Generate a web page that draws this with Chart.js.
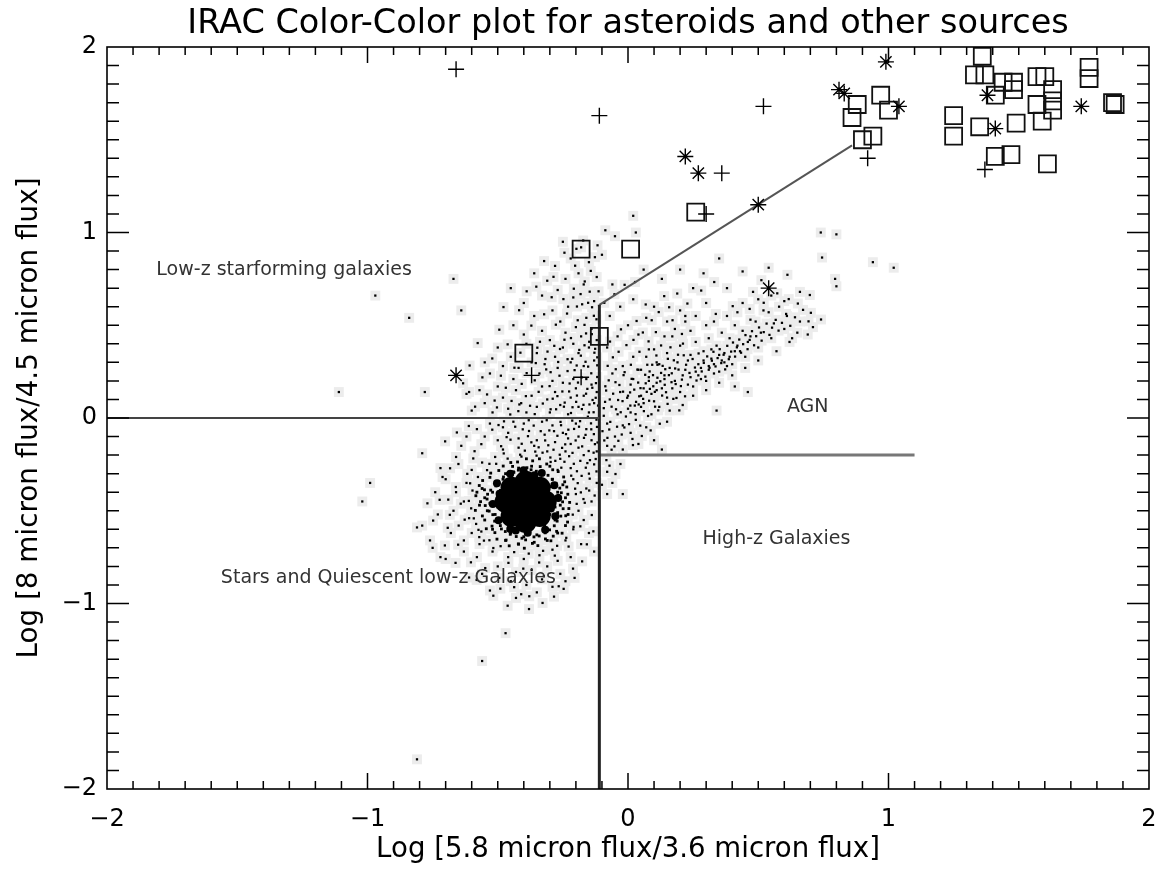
<!DOCTYPE html>
<html lang="en">
<head>
<meta charset="utf-8">
<title>IRAC Color-Color plot</title>
<script src="https://cdn.jsdelivr.net/npm/chart.js"></script>
<style>
  body { margin: 0; background: #fff; }
  #plot { display: block; }
</style>
</head>
<body>
<canvas id="plot" width="1162" height="871"></canvas>
<script>
// tick values on both axes
const tickValues = [-2, -1, 0, 1, 2];
const tickLabels = ['\u22122', '\u22121', '0', '1', '2'];

// asteroid-type sources
const plusSources = [
  [-0.66, 1.88], [-0.11, 1.63], [0.52, 1.68], [0.92, 1.40], [0.36, 1.32],
  [0.30, 1.10], [-0.37, 0.23], [-0.18, 0.22], [1.37, 1.34]
];
const starSources = [
  [0.81, 1.77], [0.83, 1.75], [0.99, 1.92], [1.04, 1.68], [1.38, 1.74], [1.41, 1.56],
  [1.74, 1.68], [0.22, 1.41], [0.27, 1.32], [0.50, 1.15], [0.54, 0.70], [-0.66, 0.23]
];
const squareSources = [
  [0.88, 1.69], [0.97, 1.74], [1.00, 1.66], [0.86, 1.62], [0.94, 1.52], [0.90, 1.50],
  [1.36, 1.95], [1.33, 1.85], [1.37, 1.85], [1.44, 1.81], [1.48, 1.81], [1.48, 1.77],
  [1.41, 1.74], [1.57, 1.84], [1.60, 1.84], [1.63, 1.77], [1.63, 1.71], [1.57, 1.69],
  [1.63, 1.66], [1.59, 1.60], [1.49, 1.59], [1.35, 1.57], [1.25, 1.63], [1.25, 1.52],
  [1.41, 1.41], [1.47, 1.42], [1.61, 1.37], [1.77, 1.89], [1.77, 1.83], [1.86, 1.70],
  [1.87, 1.69], [0.26, 1.11], [-0.18, 0.91], [0.01, 0.91], [-0.11, 0.44], [-0.40, 0.35]
];

// field sources: dense stellar core (blob)
const fieldCore = [
  [-0.393, -0.452], [-0.316, -0.452], [-0.339, -0.376], [-0.393, -0.344], [-0.447, -0.376],
  [-0.470, -0.452], [-0.447, -0.528], [-0.393, -0.560], [-0.339, -0.528]
];
// field sources: ragged edge of the core
const fieldCoreEdge = [
  [-0.268,-0.431],[-0.283,-0.362],[-0.331,-0.297],[-0.401,-0.281],[-0.452,-0.301],[-0.503,-0.352],
  [-0.519,-0.463],[-0.497,-0.551],[-0.452,-0.598],[-0.385,-0.618],[-0.318,-0.603],[-0.279,-0.529],
  [-0.493,-0.409],[-0.296,-0.488],[-0.359,-0.309],[-0.431,-0.606]
];
// field sources: ring right round the core
const fieldRing = [
  [-0.541,-0.437],[-0.527,-0.389],[-0.533,-0.502],[-0.512,-0.556],[-0.498,-0.341],[-0.486,-0.598],
  [-0.463,-0.302],[-0.452,-0.627],[-0.421,-0.281],[-0.407,-0.648],[-0.372,-0.279],[-0.361,-0.641],
  [-0.329,-0.297],[-0.318,-0.619],[-0.291,-0.331],[-0.283,-0.581],[-0.262,-0.378],[-0.258,-0.529],
  [-0.251,-0.452],[-0.267,-0.418],[-0.548,-0.472],[-0.519,-0.521],[-0.507,-0.366],[-0.478,-0.318],
  [-0.471,-0.612],[-0.438,-0.293],[-0.429,-0.639],[-0.388,-0.268],[-0.393,-0.657],[-0.352,-0.287],
  [-0.341,-0.636],[-0.307,-0.309],[-0.301,-0.603],[-0.276,-0.352],[-0.272,-0.556],[-0.256,-0.403],
  [-0.249,-0.489],[-0.539,-0.411],[-0.522,-0.583],[-0.274,-0.611],[-0.566,-0.451],[-0.571,-0.364],
  [-0.559,-0.528],[-0.544,-0.597],[-0.503,-0.653],[-0.456,-0.689],[-0.398,-0.702],[-0.346,-0.688],
  [-0.296,-0.662],[-0.253,-0.621],[-0.232,-0.561],[-0.227,-0.488],[-0.231,-0.411],[-0.243,-0.344],
  [-0.268,-0.289],[-0.312,-0.248],[-0.366,-0.231],[-0.424,-0.237],[-0.479,-0.259],[-0.527,-0.297],
  [-0.558,-0.337],[-0.584,-0.419],[-0.586,-0.498],[-0.235,-0.372],[-0.224,-0.455],[-0.239,-0.527],
  [-0.511,-0.618],[-0.468,-0.658],[-0.421,-0.679],[-0.367,-0.676],[-0.317,-0.652],[-0.287,-0.637],
  [-0.551,-0.387],[-0.496,-0.283],[-0.443,-0.261],[-0.337,-0.262],[-0.289,-0.279],[-0.247,-0.318],
  [-0.52,-0.40],[-0.53,-0.46],[-0.51,-0.52],[-0.50,-0.35],[-0.49,-0.58],[-0.47,-0.30],[-0.45,-0.62],
  [-0.42,-0.27],[-0.40,-0.64],[-0.37,-0.26],[-0.35,-0.63],[-0.33,-0.29],[-0.31,-0.60],[-0.29,-0.33],
  [-0.28,-0.55],[-0.27,-0.40],[-0.26,-0.47],[-0.27,-0.51],[-0.30,-0.37],[-0.48,-0.33],[-0.55,-0.43],
  [-0.54,-0.50],[-0.46,-0.57],[-0.38,-0.60],[-0.32,-0.58],[-0.44,-0.29],[-0.50,-0.44],[-0.29,-0.44],
  [-0.24,-0.43],[-0.25,-0.36],[-0.23,-0.52],[-0.56,-0.38],[-0.57,-0.47],[-0.55,-0.55],[-0.52,-0.60],
  [-0.47,-0.66],[-0.42,-0.68],[-0.36,-0.67],[-0.31,-0.66],[-0.27,-0.62],[-0.24,-0.58],[-0.45,-0.24],
  [-0.39,-0.22],[-0.34,-0.22],[-0.30,-0.26],[-0.53,-0.32],[-0.58,-0.40],[-0.50,-0.48],[-0.49,-0.39],
  [-0.28,-0.48],[-0.30,-0.52],[-0.41,-0.59],[-0.36,-0.31],[-0.47,-0.53],[-0.33,-0.34]
];
// field sources: wider halo of stars and quiescent galaxies
const fieldBroad = [
  [-0.62,-0.35],[-0.63,-0.45],[-0.61,-0.54],[-0.60,-0.62],[-0.57,-0.68],[-0.52,-0.72],[-0.46,-0.75],
  [-0.40,-0.76],[-0.34,-0.74],[-0.29,-0.71],[-0.24,-0.66],[-0.21,-0.60],[-0.19,-0.50],[-0.20,-0.41],
  [-0.21,-0.33],[-0.60,-0.28],[-0.56,-0.24],[-0.51,-0.21],[-0.48,-0.17],[-0.42,-0.16],[-0.36,-0.15],
  [-0.31,-0.18],[-0.26,-0.22],[-0.22,-0.27],[-0.66,-0.40],[-0.67,-0.50],[-0.65,-0.58],[-0.63,-0.66],
  [-0.58,-0.75],[-0.50,-0.80],[-0.43,-0.83],[-0.37,-0.82],[-0.31,-0.80],[-0.27,-0.77],[-0.18,-0.68],
  [-0.17,-0.55],[-0.16,-0.38],[-0.70,-0.33],[-0.69,-0.44],[-0.68,-0.62],[-0.45,-0.88],[-0.39,-0.90],
  [-0.33,-0.87],[-0.26,-0.84],[-0.22,-0.75],[-0.15,-0.62],[-0.73,-0.52],[-0.74,-0.40],[-0.72,-0.27],
  [-0.66,-0.21],[-0.63,-0.72],[-0.56,-0.84],[-0.49,-0.92],[-0.41,-0.95],[-0.35,-0.94],[-0.29,-0.91],
  [-0.24,-0.88],[-0.13,-0.72],[-0.77,-0.46],[-0.79,-0.58],[-0.76,-0.66],[-0.70,-0.76],[-0.61,-0.86],
  [-0.53,-0.93],
  [-0.712,-0.318],[-0.684,-0.522],[-0.652,-0.683],[-0.617,-0.301],[-0.603,-0.778],[-0.594,-0.218],
  [-0.571,-0.642],[-0.548,-0.809],[-0.532,-0.247],[-0.517,-0.701],[-0.494,-0.862],[-0.477,-0.191],
  [-0.459,-0.781],[-0.437,-0.912],[-0.414,-0.198],[-0.402,-0.812],[-0.379,-0.961],[-0.356,-0.181],
  [-0.341,-0.779],[-0.323,-0.853],[-0.298,-0.213],[-0.281,-0.742],[-0.266,-0.907],[-0.244,-0.236],
  [-0.228,-0.693],[-0.211,-0.812],[-0.196,-0.287],[-0.183,-0.584],[-0.171,-0.437],[-0.158,-0.681],
  [-0.147,-0.327],[-0.139,-0.523],[-0.128,-0.418],[-0.121,-0.288],[-0.133,-0.611],[-0.642,-0.462],
  [-0.627,-0.548],[-0.661,-0.372],[-0.692,-0.592],[-0.723,-0.441],[-0.748,-0.553],[-0.703,-0.687],
  [-0.662,-0.781],[-0.581,-0.873],[-0.517,-0.958],[-0.462,-1.012],[-0.328,-0.997],[-0.284,-0.963],
  [-0.247,-0.921],[-0.205,-0.862],[-0.176,-0.773],[-0.589,-0.179],[-0.651,-0.248],[-0.683,-0.271]
];
// field sources: between the core and the y = 0 cut
const fieldBridge = [
  [-0.55,-0.10],[-0.50,-0.12],[-0.46,-0.08],[-0.42,-0.11],[-0.38,-0.07],[-0.35,-0.12],[-0.32,-0.09],
  [-0.28,-0.13],[-0.25,-0.08],[-0.22,-0.14],[-0.19,-0.10],[-0.16,-0.06],[-0.14,-0.12],[-0.12,-0.18],
  [-0.13,-0.25],[-0.17,-0.20],[-0.20,-0.03],[-0.24,-0.18],[-0.29,-0.04],[-0.33,-0.02],[-0.40,-0.03],
  [-0.44,-0.02],[-0.48,-0.05],[-0.53,-0.03],[-0.58,-0.06],[-0.62,-0.10],[-0.64,-0.15],[-0.27,-0.28],
  [-0.15,-0.30],[-0.12,-0.35],[-0.14,-0.45],[-0.19,-0.16],[-0.23,-0.11],
  [-0.563,-0.141],[-0.521,-0.063],[-0.487,-0.152],[-0.451,-0.117],[-0.433,-0.047],[-0.408,-0.139],
  [-0.384,-0.098],[-0.362,-0.041],[-0.343,-0.158],[-0.318,-0.121],[-0.302,-0.067],[-0.286,-0.171],
  [-0.271,-0.096],[-0.257,-0.039],[-0.241,-0.142],[-0.229,-0.063],[-0.213,-0.188],[-0.201,-0.121],
  [-0.188,-0.047],[-0.176,-0.153],[-0.163,-0.091],[-0.151,-0.178],[-0.142,-0.029],[-0.131,-0.087],
  [-0.124,-0.221],[-0.119,-0.048],[-0.117,-0.132],[-0.156,-0.243],[-0.183,-0.231],[-0.262,-0.198],
  [-0.328,-0.187],[-0.396,-0.176],[-0.611,-0.043],[-0.657,-0.078],[-0.702,-0.126],[-0.476,-0.018],
  [-0.381,-0.012],[-0.214,-0.014]
];
// field sources: plume of low-z star-forming galaxies
const fieldPlume = [
  [-0.60,0.04],[-0.55,0.08],[-0.52,0.03],[-0.48,0.11],[-0.46,0.05],[-0.43,0.15],[-0.41,0.08],
  [-0.39,0.03],[-0.37,0.12],[-0.35,0.06],[-0.33,0.17],[-0.31,0.10],[-0.30,0.03],[-0.28,0.14],
  [-0.26,0.07],[-0.25,0.19],[-0.23,0.02],[-0.22,0.11],[-0.20,0.16],[-0.19,0.06],[-0.17,0.12],
  [-0.15,0.03],[-0.14,0.18],[-0.13,0.08],[-0.12,0.14],[-0.16,0.21],[-0.21,0.21],[-0.29,0.20],
  [-0.34,0.24],[-0.44,0.21],[-0.50,0.17],[-0.57,0.15],[-0.62,0.13],[-0.53,0.24],
  [-0.48,0.28],[-0.45,0.33],[-0.42,0.27],[-0.39,0.40],[-0.37,0.30],[-0.35,0.35],[-0.32,0.29],
  [-0.30,0.42],[-0.28,0.33],[-0.27,0.27],[-0.25,0.38],[-0.24,0.46],[-0.22,0.30],[-0.21,0.40],
  [-0.19,0.35],[-0.18,0.44],[-0.17,0.28],[-0.15,0.38],[-0.14,0.48],[-0.13,0.31],[-0.12,0.42],
  [-0.20,0.49],[-0.26,0.52],[-0.33,0.47],[-0.40,0.45],[-0.50,0.38],[-0.55,0.30],[-0.44,0.50],
  [-0.36,0.55],[-0.29,0.58],[-0.16,0.54],[-0.23,0.60],
  [-0.40,0.62],[-0.33,0.66],[-0.27,0.69],[-0.21,0.65],[-0.17,0.72],[-0.13,0.63],[-0.19,0.78],
  [-0.24,0.75],[-0.31,0.74],[-0.15,0.84],[-0.22,0.86],[-0.12,0.76],[-0.28,0.82],[-0.36,0.78],
  [-0.45,0.70],[-0.18,0.92],[-0.10,0.88],[-0.25,0.95],[-0.05,0.98],[0.02,1.09],[0.03,1.00],
  [-0.587,0.061],[-0.541,0.127],[-0.503,0.057],[-0.469,0.163],[-0.447,0.092],[-0.421,0.037],
  [-0.408,0.184],[-0.392,0.118],[-0.376,0.066],[-0.358,0.203],[-0.343,0.141],[-0.327,0.078],
  [-0.314,0.262],[-0.301,0.172],[-0.289,0.104],[-0.276,0.047],[-0.263,0.228],[-0.252,0.143],
  [-0.243,0.083],[-0.232,0.317],[-0.224,0.186],[-0.213,0.058],[-0.205,0.258],[-0.196,0.121],
  [-0.187,0.367],[-0.178,0.219],[-0.171,0.071],[-0.163,0.303],[-0.156,0.157],[-0.149,0.411],
  [-0.141,0.241],[-0.136,0.097],[-0.129,0.352],[-0.123,0.188],[-0.118,0.284],[-0.121,0.532],
  [-0.138,0.597],[-0.147,0.681],[-0.161,0.456],[-0.176,0.613],[-0.193,0.527],[-0.208,0.697],
  [-0.219,0.431],[-0.234,0.563],[-0.248,0.641],[-0.261,0.372],[-0.277,0.503],[-0.293,0.651],
  [-0.309,0.358],[-0.322,0.559],[-0.338,0.411],[-0.354,0.296],[-0.371,0.498],[-0.389,0.242],
  [-0.413,0.352],[-0.436,0.271],[-0.462,0.397],[-0.488,0.228],[-0.521,0.321],[-0.559,0.219],
  [-0.608,0.283],[-0.633,0.187],[-0.577,0.404],[-0.494,0.476],[-0.418,0.581],[-0.352,0.708],
  [-0.286,0.761],[-0.203,0.821],[-0.127,0.867],[-0.172,0.957],[-0.087,1.012],[-0.117,0.931],
  [-0.244,0.891],[-0.322,0.846],[-0.389,0.683],[-0.478,0.598],[-0.143,0.793],[-0.166,0.736],
  [-0.198,0.912],[-0.113,0.683]
];
// field sources: right of the vertical cut
const fieldRight = [
  [-0.08,-0.15],[-0.05,-0.10],[-0.02,-0.17],[0.01,-0.08],[0.04,-0.14],[0.07,-0.05],[0.10,-0.12],
  [0.13,-0.17],[-0.08,-0.03],[-0.04,0.02],[0.00,0.05],[0.03,-0.01],[0.06,0.08],[0.09,0.02],
  [0.12,0.06],[0.15,-0.02],[-0.07,0.10],[-0.03,0.14],[0.01,0.18],[0.05,0.12],[0.08,0.20],
  [0.11,0.15],[0.14,0.23],[-0.06,0.24],[-0.02,0.28],[0.02,0.33],[0.05,0.26],[0.08,0.37],
  [0.11,0.30],[-0.08,0.38],[-0.04,0.44],[0.00,0.50],[0.04,0.45],[0.07,0.54],[-0.07,0.55],
  [-0.03,0.60],[0.02,0.64],[0.10,0.60],[0.15,0.52],[0.17,0.44],[0.13,0.75],[0.06,0.80],
  [-0.06,0.72],[0.20,0.80],[0.25,0.70],[0.22,0.55],
  [-0.08,-0.29],[-0.06,-0.35],[-0.08,-0.41],[-0.02,-0.41],[-0.10,-0.36],
  [-0.091,-0.121],[-0.072,-0.062],[-0.063,-0.171],[-0.046,0.047],[-0.037,-0.123],[-0.021,0.091],
  [-0.014,-0.051],[0.008,0.138],[0.017,-0.113],[0.026,0.067],[0.039,0.191],[0.047,-0.041],
  [0.058,0.103],[0.066,0.233],[0.077,0.011],[0.084,0.157],[0.093,0.287],[0.104,0.061],
  [0.113,0.217],[0.122,-0.031],[0.131,0.121],[0.143,0.263],[0.152,0.076],[0.167,0.193],
  [0.176,0.311],[0.186,0.108],[0.197,0.041],[-0.093,0.053],[-0.087,0.171],[-0.078,0.281],
  [-0.069,0.412],[-0.058,0.327],[-0.048,0.193],[-0.036,0.357],[-0.027,0.478],[-0.017,0.231],
  [-0.006,0.393],[0.011,0.287],[0.021,0.421],[0.033,0.523],[0.044,0.357],[0.057,0.461],
  [0.068,0.612],[0.079,0.413],[0.091,0.527],[0.107,0.463],[0.118,0.571],[0.127,0.391],
  [0.139,0.657],[0.158,0.597],[0.171,0.527],[0.189,0.671],[0.207,0.453],[0.228,0.617],
  [-0.091,0.621],[-0.052,0.667],[-0.013,0.718],[0.027,0.733],[-0.083,-0.227],[-0.071,-0.257],
  [-0.048,-0.302],[-0.029,-0.248]
];
// field sources: the AGN branch
const fieldAgn = [
  [0.01,0.03],[0.00,0.12],[0.02,0.21],[-0.02,-0.04],[0.05,0.06],[0.06,0.16],[0.04,0.26],[0.07,0.33],
  [0.10,0.09],[0.11,0.19],[0.09,0.13],[0.12,0.29],[0.10,0.37],[0.15,0.11],[0.14,0.21],[0.16,0.27],
  [0.17,0.16],[0.15,0.35],[0.16,0.04],[0.20,0.14],[0.21,0.23],[0.19,0.30],[0.22,0.26],[0.20,0.39],
  [0.21,0.07],[0.23,0.18],[0.25,0.17],[0.26,0.25],[0.24,0.34],[0.27,0.29],[0.26,0.41],[0.25,0.12],
  [0.28,0.21],[0.30,0.20],[0.31,0.28],[0.29,0.36],[0.32,0.32],[0.31,0.43],[0.30,0.15],[0.33,0.24],
  [0.35,0.25],[0.36,0.31],[0.34,0.39],[0.37,0.35],[0.36,0.46],[0.35,0.19],[0.38,0.28],[0.40,0.29],
  [0.41,0.36],[0.39,0.43],[0.42,0.39],[0.41,0.50],[0.40,0.23],[0.45,0.33],[0.46,0.41],[0.44,0.47],
  [0.47,0.53],[0.45,0.27],[0.50,0.38],[0.51,0.46],[0.49,0.52],[0.52,0.58],[0.50,0.31],[0.55,0.43],
  [0.56,0.51],[0.54,0.57],[0.57,0.36],[0.60,0.48],[0.61,0.55],[0.62,0.41],[0.66,0.52],[0.65,0.46],
  [0.71,0.49],[0.27,0.23],[0.29,0.31],[0.33,0.29],[0.35,0.34],[0.31,0.26],[0.37,0.30],[0.24,0.22],
  [0.28,0.27],[0.32,0.37],[0.39,0.33],[0.18,0.20],[0.13,0.16],[0.08,0.22],[0.23,0.31],[0.43,0.36],
  [0.47,0.44],[0.18,0.48],[0.22,0.52],[0.26,0.55],[0.20,0.58],[0.30,0.50],[0.14,0.44],[0.24,0.47],
  [0.33,0.52],[0.38,0.55],[0.42,0.57],[0.44,0.62],[0.50,0.64],[0.55,0.66],[0.58,0.60],
  [0.223,0.287],[0.236,0.243],[0.248,0.318],[0.257,0.272],[0.263,0.202],[0.271,0.348],[0.283,0.251],
  [0.291,0.297],[0.297,0.223],[0.304,0.332],[0.313,0.271],[0.322,0.309],[0.328,0.357],[0.336,0.278],
  [0.344,0.323],[0.352,0.371],[0.358,0.296],[0.367,0.341],[0.373,0.262],[0.381,0.389],[0.387,0.317],
  [0.396,0.358],[0.403,0.407],[0.411,0.331],[0.418,0.381],[0.427,0.423],[0.434,0.352],[0.442,0.398],
  [0.451,0.447],[0.459,0.371],[0.467,0.421],[0.476,0.468],[0.484,0.392],[0.492,0.441],[0.503,0.488],
  [0.513,0.417],[0.521,0.463],[0.532,0.509],[0.543,0.448],[0.553,0.487],[0.567,0.529],[0.578,0.471],
  [0.591,0.513],[0.607,0.561],[0.623,0.497],[0.641,0.543],[0.672,0.583],[0.693,0.521],[0.168,0.241],
  [0.183,0.183],[0.194,0.261],[0.207,0.207],[0.214,0.338],[0.141,0.179],[0.127,0.243],[0.153,0.319],
  [0.097,0.171],[0.113,0.287],[0.072,0.141],[0.083,0.251],[0.043,0.117],[0.031,0.087]
];
// field sources: the densest parts of the cloud either side of the cut
const fieldDense = [
  [-0.312,-0.012],[-0.297,0.047],[-0.284,-0.071],[-0.271,0.118],[-0.259,-0.021],[-0.246,0.061],
  [-0.238,-0.087],[-0.226,0.143],[-0.219,0.027],[-0.207,-0.059],[-0.199,0.087],[-0.192,0.191],
  [-0.184,-0.017],[-0.177,0.048],[-0.169,-0.107],[-0.161,0.131],[-0.154,0.007],[-0.148,0.073],
  [-0.141,-0.061],[-0.137,0.163],[-0.132,0.031],[-0.127,-0.141],[-0.124,0.109],[-0.121,-0.009],
  [-0.118,0.221],[-0.115,0.067],[-0.132,-0.187],[-0.146,-0.227],[-0.162,-0.268],[-0.178,-0.312],
  [-0.193,-0.351],[-0.149,-0.391],[-0.166,-0.457],[-0.181,-0.401],[-0.208,-0.247],[-0.226,-0.206],
  [-0.253,-0.161],[-0.279,-0.231],[-0.306,-0.147],[-0.335,-0.071],[-0.358,0.021],[-0.371,-0.131],
  [-0.404,-0.061],[-0.417,0.073],[-0.452,0.019],[-0.466,-0.103],[-0.497,-0.038],[-0.512,0.094],
  [-0.232,0.253],[-0.214,0.319],[-0.197,0.283],[-0.181,0.336],[-0.167,0.392],[-0.153,0.277],
  [-0.139,0.452],[-0.126,0.373],[-0.118,0.327],[-0.244,0.422],[-0.268,0.302],[-0.283,0.389],
  [-0.297,0.247],[-0.317,0.318],[-0.348,0.379],[-0.196,0.601],[-0.182,0.668],[-0.153,0.621],
  [-0.131,0.551],[-0.167,0.502],
  [-0.098,-0.071],[-0.093,0.012],[-0.088,0.087],[-0.084,0.148],[-0.079,-0.107],[-0.074,0.203],
  [-0.068,-0.021],[-0.063,0.061],[-0.057,0.131],[-0.052,-0.153],[-0.047,0.263],[-0.042,-0.047],
  [-0.038,0.097],[-0.033,0.178],[-0.028,0.031],[-0.024,-0.089],[-0.019,0.142],[-0.013,0.247],
  [-0.008,0.008],[-0.003,0.109],[0.004,-0.033],[0.009,0.067],[0.014,0.211],[0.019,-0.146],
  [0.024,0.153],[0.029,0.021],[0.036,0.261],[0.041,0.073],[0.048,0.161],[0.053,-0.097],
  [0.061,0.037],[0.068,0.187],[0.074,0.287],[0.081,0.093],[0.087,-0.067],[0.096,0.231],
  [0.103,0.141],[0.109,0.337],[0.116,0.041],[0.124,0.198],[0.133,0.281],[0.146,0.139],
  [0.157,0.231],[0.163,0.381],[0.174,0.103],[0.181,0.267],[0.192,0.341],[0.203,0.172],
  [0.211,0.401],[0.219,0.117],
  [-0.602,-0.487],[-0.597,-0.391],[-0.583,-0.571],[-0.576,-0.318],[-0.563,-0.612],[-0.541,-0.281],
  [-0.532,-0.659],[-0.506,-0.247],[-0.489,-0.691],[-0.462,-0.219],[-0.437,-0.723],[-0.409,-0.208],
  [-0.381,-0.731],[-0.351,-0.203],[-0.326,-0.716],[-0.297,-0.237],[-0.272,-0.689],[-0.256,-0.268],
  [-0.237,-0.646],[-0.218,-0.311],[-0.209,-0.587],[-0.203,-0.381],[-0.197,-0.463],[-0.212,-0.521],
  [-0.611,-0.447],[-0.606,-0.352],[-0.592,-0.541],[-0.574,-0.603],[-0.553,-0.661]
];
// isolated field sources
const fieldOutliers = [
  [-0.99,-0.35],[-1.02,-0.45],[-0.79,-0.19],[-0.81,-0.59],[-0.75,-0.70],[-0.72,-0.75],[-0.47,-1.16],
  [-0.56,-1.31],[-0.38,-1.03],[-0.43,-0.97],[-0.81,-1.84],[-0.97,0.66],[-0.67,0.75],[-0.84,0.54],
  [-1.11,0.14],[-0.78,0.14],[-0.64,0.58],[-0.61,0.14],[0.74,1.00],[0.80,0.99],[0.745,0.865],
  [0.94,0.84],[1.02,0.81],[0.795,0.75],[0.80,0.71],[0.69,0.45],[0.63,0.43],[0.46,0.14],[0.41,0.17],
  [0.34,0.04],[0.54,0.81],[0.44,0.79],[0.35,0.86],[0.29,0.78],[0.60,0.63],[0.66,0.68],[0.48,0.68],
  [0.38,0.70],[0.30,0.62],[0.337,0.561],[0.402,0.603],[0.467,0.588],[0.521,0.621],[0.573,0.672],
  [0.617,0.641],[0.652,0.617],[0.698,0.663],[0.281,0.687],[0.331,0.733],[0.512,0.743],[0.612,0.772],
  [0.702,0.567],[0.741,0.531]
];

// colour-colour selection boundaries
const cutLowZ = [[-2, 0], [-0.11, 0]];
const cutVertical = [[-0.11, -2], [-0.11, 0.61]];
const cutAgn = [[-0.11, 0.61], [0.86, 1.47]];
const cutHighZ = [[-0.11, -0.2], [1.1, -0.2]];

const regionNames = ['Low-z starforming galaxies', 'AGN', 'High-z Galaxies', 'Stars and Quiescent low-z Galaxies'];

const pts = arr => arr.map(p => ({ x: p[0], y: p[1] }));
const sparseField = [].concat(fieldBroad, fieldBridge, fieldPlume, fieldRight, fieldAgn, fieldDense, fieldOutliers);
const allField = [].concat(fieldRing, sparseField);

// ticks pointing inward on all four sides, box frame, region names
const framePlugin = {
  id: 'framePlugin',
  afterDatasetsDraw(chart) {
    const { ctx, chartArea: a, scales: { x, y } } = chart;
    ctx.save();
    ctx.fillStyle = '#333';
    ctx.font = '19px "DejaVu Sans"';
    ctx.textAlign = 'center';
    ctx.textBaseline = 'middle';
    const spots = [[-1.32, 0.80], [0.69, 0.06], [0.57, -0.65], [-0.92, -0.865]];
    regionNames.forEach((t, i) => {
      ctx.fillText(t, x.getPixelForValue(spots[i][0]), y.getPixelForValue(spots[i][1]));
    });

    ctx.strokeStyle = '#000';
    ctx.lineWidth = 1.6;
    ctx.strokeRect(a.left, a.top, a.right - a.left, a.bottom - a.top);
    ctx.lineWidth = 1.5;
    ctx.beginPath();
    for (let i = -19; i <= 19; i++) {
      const v = i / 10;
      const major = i % 10 === 0;
      const px = x.getPixelForValue(v);
      const lx = major ? 16 : 8;
      ctx.moveTo(px, a.bottom); ctx.lineTo(px, a.bottom - lx);
      ctx.moveTo(px, a.top); ctx.lineTo(px, a.top + lx);
      const py = y.getPixelForValue(v);
      const ly = major ? 22 : 12;
      ctx.moveTo(a.left, py); ctx.lineTo(a.left + ly, py);
      ctx.moveTo(a.right, py); ctx.lineTo(a.right - ly, py);
    }
    ctx.stroke();
    ctx.restore();
  }
};

const lineStyle = { showLine: true, pointRadius: 0, fill: false, tension: 0, order: 3, clip: false };
const axisFont = { family: '"DejaVu Sans"', size: 24 };

new Chart(document.getElementById('plot'), {
  type: 'scatter',
  data: {
    datasets: [
      // faint jpeg-like smudge under the field dots
      { label: 'field haze', data: pts(allField), pointStyle: 'rect', pointRadius: 7,
        backgroundColor: '#ececec', borderWidth: 0, order: 7 },
      { label: 'core', data: pts(fieldCore), pointStyle: 'circle',
        pointRadius: [21, 11, 11, 11, 11, 11, 11, 11, 11], backgroundColor: '#000', borderWidth: 0, order: 5 },
      { label: 'core edge', data: pts(fieldCoreEdge), pointStyle: 'circle', pointRadius: 4,
        backgroundColor: '#000', borderWidth: 0, order: 5 },
      { label: 'field ring', data: pts(fieldRing), pointStyle: 'rect', pointRadius: 2,
        backgroundColor: '#000', borderWidth: 0, order: 5 },
      { label: 'field', data: pts(sparseField), pointStyle: 'rect', pointRadius: 1.6,
        backgroundColor: '#000', borderWidth: 0, order: 5 },
      { label: 'cut low-z', data: pts(cutLowZ), borderColor: '#444', borderWidth: 2, ...lineStyle },
      { label: 'cut vertical', data: pts(cutVertical), borderColor: '#222', borderWidth: 3, ...lineStyle },
      { label: 'cut agn', data: pts(cutAgn), borderColor: '#555', borderWidth: 2, ...lineStyle },
      { label: 'cut high-z', data: pts(cutHighZ), borderColor: '#777', borderWidth: 3, ...lineStyle },
      { label: 'plus', data: pts(plusSources), pointStyle: 'cross', pointRadius: 8, borderColor: '#000',
        borderWidth: 1.4, order: 1, clip: false },
      { label: 'star', data: pts(starSources), pointStyle: 'star', pointRadius: 8, borderColor: '#000',
        borderWidth: 1.4, order: 1, clip: false },
      { label: 'square', data: pts(squareSources), pointStyle: 'rect', pointRadius: 12, borderColor: '#111',
        backgroundColor: 'rgba(0,0,0,0)', borderWidth: 1.8, order: 1, clip: false }
    ]
  },
  options: {
    responsive: false,
    animation: false,
    devicePixelRatio: 1,
    layout: { autoPadding: false, padding: { left: 0, right: 13, top: 0, bottom: 0 } },
    plugins: {
      legend: { display: false },
      tooltip: { enabled: false },
      title: {
        display: true,
        fullSize: false,
        text: 'IRAC Color-Color plot for asteroids and other sources',
        color: '#000',
        font: { family: '"DejaVu Sans"', size: 33.5, weight: 'normal', lineHeight: 1.2 },
        padding: { top: 4, bottom: 2.8 }
      }
    },
    scales: {
      x: {
        type: 'linear', min: -2, max: 2,
        grid: { display: false, drawTicks: false },
        border: { display: false },
        afterBuildTicks: s => { s.ticks = tickValues.map(v => ({ value: v })); },
        afterFit: s => { s.height = 82; s.paddingLeft = 0; s.paddingRight = 0; },
        ticks: { color: '#000', font: axisFont, padding: 16, maxRotation: 0,
          callback: v => tickLabels[tickValues.indexOf(v)] },
        title: { display: true, text: 'Log [5.8 micron flux/3.6 micron flux]', color: '#000',
          font: { family: '"DejaVu Sans"', size: 27.6, lineHeight: 1.2 }, padding: { top: 0, bottom: 5 } }
      },
      y: {
        type: 'linear', min: -2, max: 2,
        grid: { display: false, drawTicks: false },
        border: { display: false },
        afterBuildTicks: s => { s.ticks = tickValues.map(v => ({ value: v })); },
        afterFit: s => { s.width = 107; s.paddingTop = 0; s.paddingBottom = 0; },
        ticks: { color: '#000', font: axisFont, padding: 10,
          callback: v => tickLabels[tickValues.indexOf(v)] },
        title: { display: true, text: 'Log [8 micron flux/4.5 micron flux]', color: '#000',
          font: { family: '"DejaVu Sans"', size: 27.8, lineHeight: 1.2 }, padding: { top: 13, bottom: 0 } }
      }
    }
  },
  plugins: [framePlugin]
});
</script>
</body>
</html>
